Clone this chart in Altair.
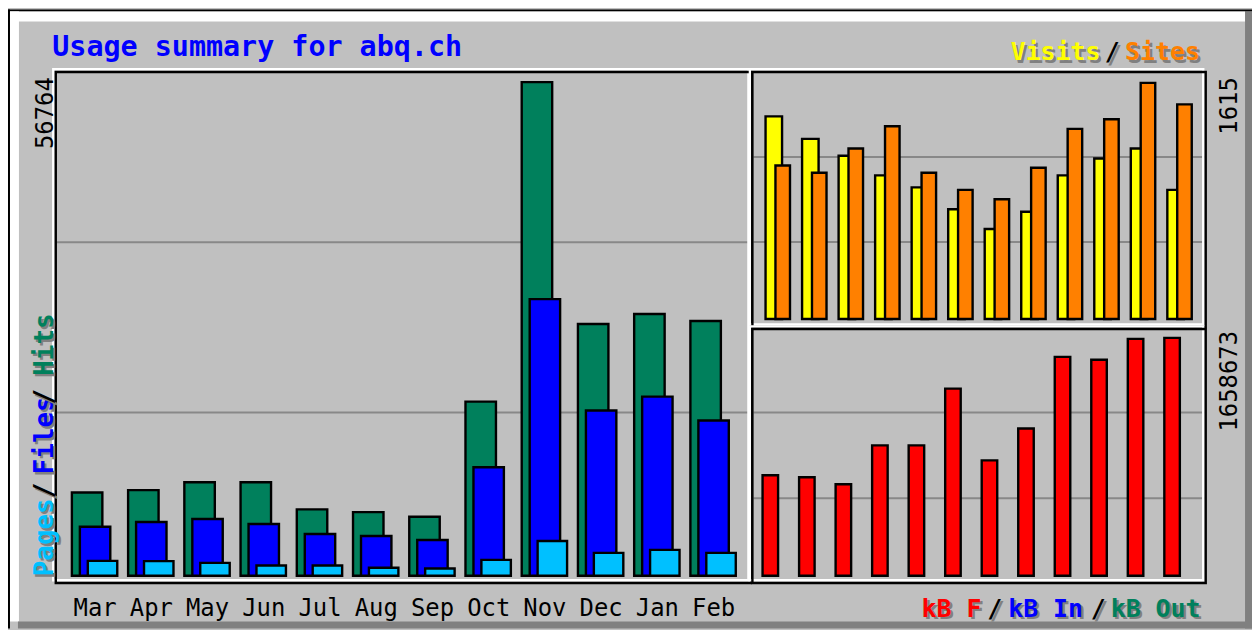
import altair as alt
import pandas as pd

# ---------------- data ----------------
months = ["Mar", "Apr", "May", "Jun", "Jul", "Aug", "Sep", "Oct", "Nov", "Dec", "Jan", "Feb"]
hits = [9579, 9842, 10757, 10757, 7633, 7324, 6786, 20027, 56764, 28953, 30098, 29297]
files = [5642, 6180, 6523, 5951, 4806, 4578, 4120, 12474, 31814, 18997, 20599, 17853]
pages = [1717, 1682, 1488, 1179, 1179, 916, 835, 1831, 4005, 2632, 2975, 2632]
visits = [1386, 1232, 1116, 982, 900, 751, 615, 733, 982, 1098, 1166, 883]
sites = [1050, 1000, 1166, 1318, 1000, 883, 819, 1034, 1300, 1366, 1615, 1468]
kbytes = [700940, 687060, 638480, 909140, 909140, 1304720, 805040, 1027120,
          1526800, 1505980, 1652000, 1658673]

title_text = "Usage summary for abq.ch"

df = pd.DataFrame({
    "month": months, "idx": list(range(len(months))),
    "hits": hits, "files": files, "pages": pages,
    "visits": visits, "sites": sites, "kbytes": kbytes,
})
one = pd.DataFrame({"k": [0]})

OFF = 8  # page margin: image coords -> plot coords
MONO = "DejaVu Sans Mono"

# ---------------- scales (pixel ranges place the three panels) ----------------
LX = alt.Scale(domain=[0, 12], range=[71 - OFF, 71 + 56.5 * 12 - OFF])
LY = alt.Scale(domain=[0, max(hits)], range=[577 - OFF, 81 - OFF])
RX = alt.Scale(domain=[0, 12], range=[768 - OFF, 768 + 36.7 * 12 - OFF])
TY = alt.Scale(domain=[0, max(sites)], range=[319 - OFF, 81.7 - OFF])
BY = alt.Scale(domain=[0, max(kbytes)], range=[577 - OFF, 338 - OFF])


def bars(field, fill, o1, o2, xs, ys):
    return alt.Chart(df).transform_calculate(
        bx1=f"datum.idx + {o1}", bx2=f"datum.idx + {o2}"
    ).mark_rect(fill=fill, stroke="black", strokeWidth=2.4).encode(
        x=alt.X("bx1:Q", scale=xs, axis=None),
        x2="bx2:Q",
        y=alt.Y(f"{field}:Q", scale=ys, axis=None),
        y2=alt.datum(0),
    )


def band(x1, y1, x2, y2, color):
    return alt.Chart(one).mark_rect(fill=color, strokeWidth=0).encode(
        x=alt.value(x1 - OFF), x2=alt.value(x2 - OFF),
        y=alt.value(y1 - OFF), y2=alt.value(y2 - OFF))


def frame(x1, y1, x2, y2, color, sw=2.4):
    return alt.Chart(one).mark_rect(fill="white", fillOpacity=0, stroke=color, strokeWidth=sw).encode(
        x=alt.value(x1 - OFF), x2=alt.value(x2 - OFF),
        y=alt.value(y1 - OFF), y2=alt.value(y2 - OFF))


def grid(x1, x2, y):
    return alt.Chart(one).mark_rule(color="#888888", strokeWidth=2).encode(
        x=alt.value(x1 - OFF), x2=alt.value(x2 - OFF), y=alt.value(y - OFF))


def txt(s, x, y, color, size, bold=False, angle=0, align="left",
        baseline="alphabetic", shadow=False):
    base = dict(text=s, font=MONO, fontSize=size,
                fontWeight="bold" if bold else "normal",
                angle=angle, align=align, baseline=baseline)
    out = []
    if shadow:
        out.append(alt.Chart(one).mark_text(color="#808080", **base).encode(
            x=alt.value(x - OFF + 2.4), y=alt.value(y - OFF + 2.4)))
    out.append(alt.Chart(one).mark_text(color=color, **base).encode(
        x=alt.value(x - OFF), y=alt.value(y - OFF)))
    return out


layers = []

# outer bevel frame
layers += [
    band(8, 8, 1258, 10, "black"),
    band(8, 8, 10, 630, "black"),
    band(10, 10, 1251, 20, "white"),
    band(10, 10, 19, 623, "white"),
    band(1251, 10, 1258, 630, "#808080"),
    band(18, 623, 1258, 630, "#808080"),
]

# gridlines
layers += [
    grid(57, 752, 242), grid(57, 752, 413),
    grid(757, 1210, 156.3), grid(757, 1210, 241.7),
    grid(757, 1210, 413), grid(757, 1210, 499),
]

# panel frames (white etched line, then black line)
layers += [
    frame(53.5, 68, 752, 581.5, "white"), frame(56, 70.8, 754.5, 584.3, "black"),
    frame(753.5, 68, 1209, 324.5, "white"), frame(756, 70.8, 1211.5, 327, "black"),
    frame(753.5, 326.5, 1209, 581.5, "white"), frame(756, 329, 1211.5, 584.3, "black"),
]

# bars
layers += [
    bars("hits", "#00805C", 0.021, 0.563, LX, LY),
    bars("files", "#0000FF", 0.163, 0.704, LX, LY),
    bars("pages", "#00C0FF", 0.304, 0.828, LX, LY),
    bars("visits", "#FFFF00", 0.033, 0.485, RX, TY),
    bars("sites", "#FF8000", 0.304, 0.702, RX, TY),
    bars("kbytes", "#FF0000", -0.049, 0.376, RX, BY),
]

# month labels
layers.append(
    alt.Chart(df).transform_calculate(cx="datum.idx + 0.434").mark_text(
        font=MONO, fontSize=24, color="black", align="center", baseline="alphabetic"
    ).encode(x=alt.X("cx:Q", scale=LX, axis=None), y=alt.value(617 - OFF), text="month:N")
)

# title
layers += txt(title_text, 52.5, 55, "#0000FF", 28.5, bold=True)

# value labels (rotated)
layers += txt(str(max(hits)), 53, 76, "black", 24, angle=270, align="right")
layers += txt(str(max(sites)), 1243, 76, "black", 24, angle=270, align="right")
layers += txt(str(max(kbytes)), 1243, 331, "black", 24, angle=270, align="right")

# left vertical legend
layers += txt("Pages", 53, 577.5, "#00C0FF", 26, bold=True, angle=270, shadow=True)
layers += txt("/", 53, 499, "black", 26, bold=True, angle=270, shadow=True)
layers += txt("Files", 53, 475, "#0000FF", 26, bold=True, angle=270, shadow=True)
layers += txt("/", 53, 405, "black", 26, bold=True, angle=270, shadow=True)
layers += txt("Hits", 53, 376, "#00805C", 26, bold=True, angle=270, shadow=True)

# top-right legend
layers += txt("Visits", 1015.5, 59, "#FFFF00", 25, bold=True, shadow=True)
layers += txt("/", 1110, 59, "black", 25, bold=True, shadow=True)
layers += txt("Sites", 1130.5, 59, "#FF8000", 25, bold=True, shadow=True)

# bottom-right legend
layers += txt("kB F", 926, 618, "#FF0000", 25, bold=True, shadow=True)
layers += txt("/", 992, 618, "black", 25, bold=True, shadow=True)
layers += txt("kB In", 1013, 618, "#0000FF", 25, bold=True, shadow=True)
layers += txt("/", 1096, 618, "black", 25, bold=True, shadow=True)
layers += txt("kB Out", 1116, 618, "#00805C", 25, bold=True, shadow=True)

chart = alt.layer(*layers).resolve_scale(
    x="independent", y="independent"
).properties(
    width=1250, height=622,
    autosize=alt.AutoSizeParams(type="none"),
    padding=0,
    background="#C0C0C0",
).configure_view(stroke=None)

chart.save("out.html", embed_options={"renderer": "svg", "actions": False})
